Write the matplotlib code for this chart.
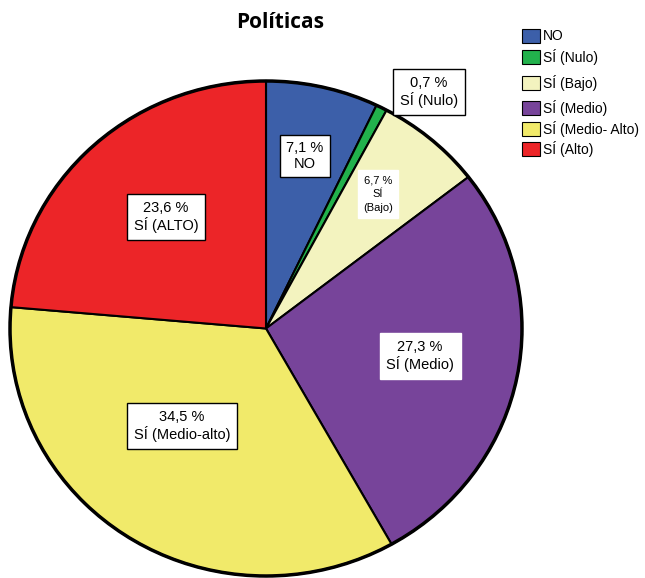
import matplotlib
matplotlib.use("Agg")
import matplotlib.pyplot as plt
from matplotlib.patches import Ellipse, Rectangle

categories = ["NO", "SÍ (Nulo)", "SÍ (Bajo)", "SÍ (Medio)", "SÍ (Medio- Alto)", "SÍ (Alto)"]
values = [7.1, 0.7, 6.7, 27.3, 34.5, 23.6]
slice_labels = ["7,1 %\nNO", "0,7 %\nSÍ (Nulo)", "6,7 %\nSÍ\n(Bajo)",
                "27,3 %\nSÍ (Medio)", "34,5 %\nSÍ (Medio-alto)", "23,6 %\nSÍ (ALTO)"]
colors = ["#3c5fa9", "#22b14c", "#f3f3bf", "#77449a", "#f1ea6a", "#ec2528"]

plt.rcParams['font.family'] = ['Liberation Sans', 'DejaVu Sans']

W, H = 645, 578
fig = plt.figure(figsize=(W / 100, H / 100), dpi=100)

# pie area in pixels
left, right, top, bottom = 10, 522, 81, 576
ax = fig.add_axes([left / W, 1 - bottom / H, (right - left) / W, (bottom - top) / H])
wedges, _ = ax.pie(values, colors=colors, startangle=90, counterclock=False,
                   wedgeprops=dict(edgecolor="black", linewidth=1.5))
for w in wedges:
    w.set_clip_on(False)
ax.add_patch(Ellipse((0, 0), 2, 2, fill=False, edgecolor="black", linewidth=2.5, clip_on=False))
ax.set_aspect('auto')
ax.set_xlim(-1, 1)
ax.set_ylim(-1, 1)
ax.axis('off')

# label boxes: (center x, center y, fontsize, border, linespacing)
label_pos = [(305, 156, 10.5, True, 1.15), (429, 92, 10.5, True, 1.15),
             (378, 194, 8, False, 1.45), (420, 356, 10.5, False, 1.15),
             (182, 426, 10.5, True, 1.15), (166, 217, 10.5, True, 1.15)]
for lab, (px, py, fs, border, ls) in zip(slice_labels, label_pos):
    fig.text(px / W, 1 - py / H, lab, ha='center', va='center', fontsize=fs,
             linespacing=ls,
             bbox=dict(boxstyle='square,pad=0.45', facecolor='white',
                       edgecolor='black' if border else 'white', linewidth=1))

fig.text(280 / W, 1 - 22 / H, "Políticas", ha='center', va='center',
         fontsize=15, fontweight='bold', family=['Open Sans', 'DejaVu Sans'])

# legend
rows = [36, 57, 83, 108, 129, 149]
for y, c, name in zip(rows, colors, categories):
    fig.add_artist(Rectangle((522 / W, 1 - (y + 7) / H), 18 / W, 14 / H,
                             facecolor=c, edgecolor='black', linewidth=0.8,
                             transform=fig.transFigure))
    fig.text(543 / W, 1 - y / H, name, ha='left', va='center', fontsize=10)

fig.savefig("out.png", dpi=100)
